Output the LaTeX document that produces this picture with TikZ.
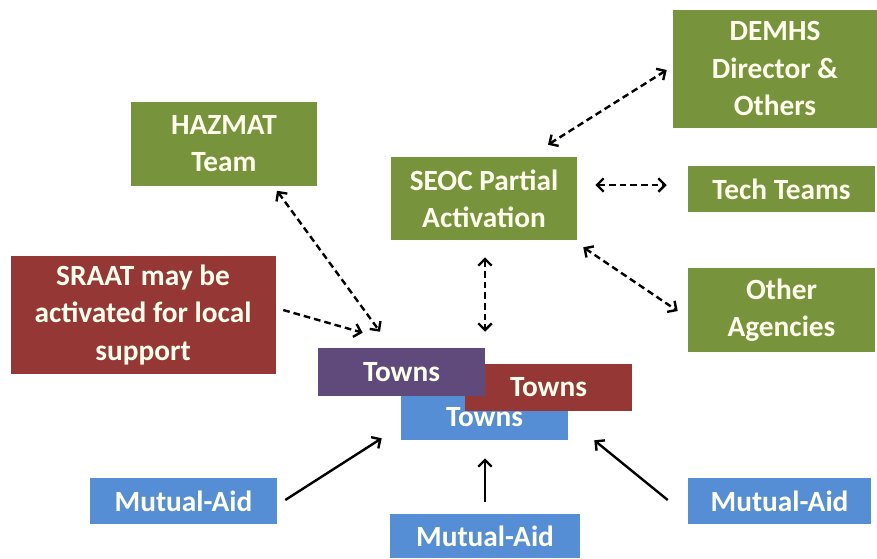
\documentclass[tikz,border=0pt]{standalone}
\usepackage{fontspec}
\setmainfont{Carlito}
\usetikzlibrary{arrows.meta,calc}
\definecolor{boxgreen}{RGB}{119,147,60}
\definecolor{boxred}{RGB}{149,55,53}
\definecolor{boxpurple}{RGB}{96,74,123}
\definecolor{boxblue}{RGB}{85,142,213}
\definecolor{boxtext}{RGB}{255,255,238}
\tikzset{
  box/.style={
    inner sep=0pt, align=center, text=boxtext,
    font=\fontsize{22}{28}\selectfont\bfseries,
    #1
  },
  box/.default={},
  box green/.style={box={fill=boxgreen}},
  box red/.style={box={fill=boxred}},
  box purple/.style={box={fill=boxpurple}},
  box blue/.style={box={fill=boxblue}},
  link/.style={
    line width=1.8pt, dash pattern={on 5pt off 3pt},
    {Straight Barb[length=5pt,width=10pt]}-{Straight Barb[length=5pt,width=10pt]}
  },
  push/.style={
    line width=1.8pt, -{Straight Barb[length=5pt,width=10pt]}
  }
}
\begin{document}
\begin{tikzpicture}[x=0.75pt,y=0.75pt,yscale=-1,xscale=1]
\useasboundingbox (0,0) rectangle (877,558);
\fill[white] (0,0) rectangle (877,558);

% green boxes
\node[box green, minimum width=139.5pt, minimum height=63pt] (hazmat) at (224,143.5) {HAZMAT\\Team};
\node[box green, minimum width=139.5pt, minimum height=62.25pt] (seoc) at (484,198.5) {SEOC Partial\\Activation};
\node[box green, minimum width=153pt, minimum height=88.5pt] (demhs) at (775,68.5) {DEMHS\\Director \&\\Others};
\node[box green, minimum width=140.25pt, minimum height=34.5pt] (tech) at (781.5,189) {Tech Teams};
\node[box green, minimum width=140.25pt, minimum height=63pt] (other) at (781.5,310) {Other\\Agencies};

% red box
\node[box red, minimum width=198.75pt, minimum height=88.5pt] (sraat) at (143,315) {SRAAT may be\\activated for local\\support};

% stack of towns
\node[box blue, minimum width=125.25pt, minimum height=33.75pt] (towns b) at (484.5,417.5) {Towns};
\node[box red, minimum width=125.25pt, minimum height=35.25pt] (towns r) at (548.5,387.5) {Towns};
\node[box purple, minimum width=125.25pt, minimum height=36pt] (towns p) at (401.5,372) {Towns};

% mutual aid
\node[box blue, minimum width=140.25pt, minimum height=34.5pt] (aid left) at (183.5,501) {Mutual-Aid};
\node[box blue, minimum width=142.5pt, minimum height=33pt] (aid mid) at (485,536) {Mutual-Aid};
\node[box blue, minimum width=137.25pt, minimum height=34.5pt] (aid right) at (779.5,501) {Mutual-Aid};

% dashed links
\draw[link] ($(hazmat.south)+(53,5)$) -- ($(towns p.north)+(-21.5,-16)$);
\draw[link, {}-{Straight Barb[length=5pt,width=10pt]}] ($(sraat.east)+(7.5,-5)$) -- ($(towns p.north west)+(45,-15)$);
\draw[link] ($(seoc.south)+(1,17)$) -- ($(seoc.south |- towns p.north)+(1,-16)$);
\draw[link] ($(seoc.north)+(64,-12)$) -- ($(demhs.west)+(-6,1.5)$);
\draw[link] ($(seoc.east)+(18,-13.5)$) -- ($(tech.west)+(-21,-4)$);
\draw[link] ($(seoc.south east)+(6,7)$) -- ($(other.west)+(-10,1)$);

% solid arrows
\draw[push] ($(aid left.east)+(8,-1)$) -- ($(towns b.south west)+(-19,-2)$);
\draw[push] ($(aid mid.north)+(0,-12)$) -- ($(towns b.south)+(0.5,18)$);
\draw[push] ($(aid right.west)+(-20,-1)$) -- ($(towns b.south east)+(26,0)$);

\end{tikzpicture}
\end{document}
